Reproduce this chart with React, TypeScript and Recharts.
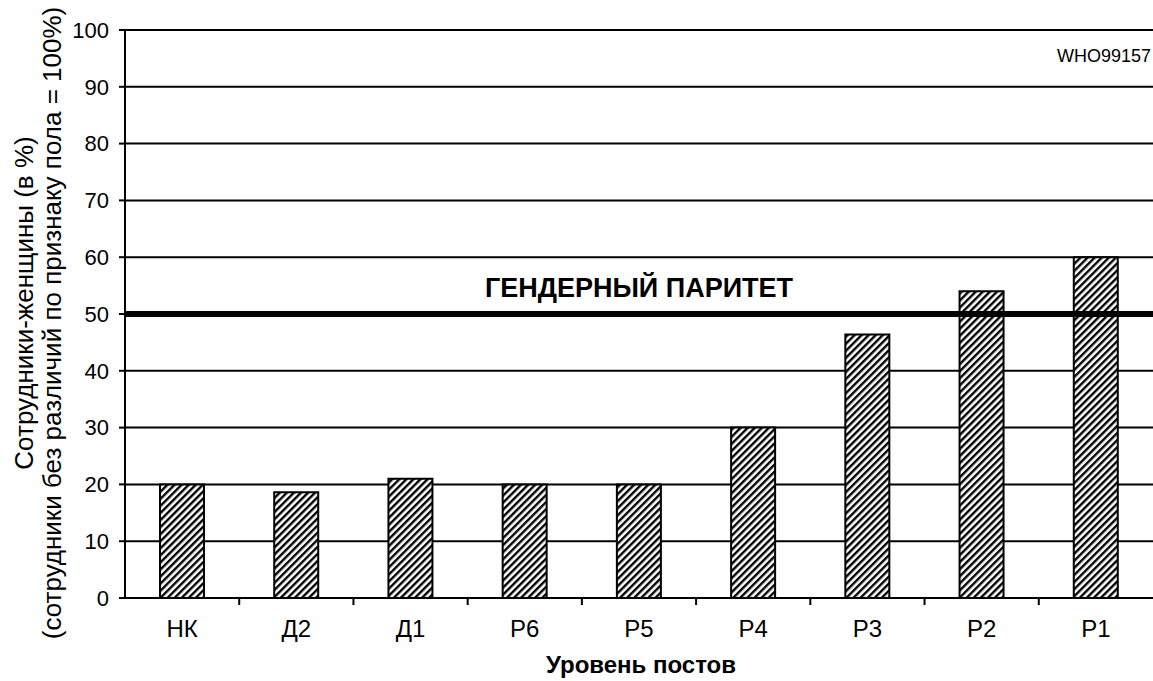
import React from 'react';
import { BarChart, Bar, XAxis, YAxis, CartesianGrid, ReferenceLine, Customized } from 'recharts';

const categories = ['НК', 'Д2', 'Д1', 'Р6', 'Р5', 'Р4', 'Р3', 'Р2', 'Р1'];
const womenShare = [20, 18.6, 21, 20, 20, 30, 46.4, 54, 60];
const yTicks = [0, 10, 20, 30, 40, 50, 60, 70, 80, 90, 100];
const parityValue = 50;
const parityLabel = 'ГЕНДЕРНЫЙ ПАРИТЕТ';
const codeLabel = 'WHO99157';
const xTitle = 'Уровень постов';
const yTitle1 = 'Сотрудники-женщины (в %)';
const yTitle2 = '(сотрудники без различий по признаку пола = 100%)';

const data = categories.map((c, i) => ({ level: c, value: womenShare[i] }));

const FONT = '"Liberation Sans", Arial, sans-serif';

const XTick = (props: any) => {
  const { x, y, payload, index, visibleTicksCount } = props;
  const half = payload && payload.offset ? payload.offset : 57;
  const last = index === (visibleTicksCount ?? categories.length) - 1;
  return (
    <g>
      {!last && <line x1={x + half} x2={x + half} y1={y - 8} y2={y - 1} stroke="#000" strokeWidth={2} />}
      <text x={x} y={y + 31} textAnchor="middle" fontSize={24} fontFamily={FONT} fill="#000">
        {payload.value}
      </text>
    </g>
  );
};

const YTitle = (props: any) => {
  const off = props.offset || {};
  const cy = (off.top ?? 30) + (off.height ?? 568) / 2;
  return (
    <g fontFamily={FONT} fill="#000" fontSize={26}>
      <text transform={`translate(33, ${cy - 11}) rotate(-90)`} textAnchor="middle">{yTitle1}</text>
      <text transform={`translate(61, ${cy + 9}) rotate(-90)`} textAnchor="middle">{yTitle2}</text>
    </g>
  );
};

export default function App() {
  return (
    <div style={{ position: 'absolute', left: 0, top: 0, background: '#fff' }}>
      <BarChart
        width={1153}
        height={681}
        data={data}
        margin={{ top: 30, right: 0, bottom: 0, left: 0 }}
        barCategoryGap={35}
      >
        <defs>
          <pattern id="hatch" patternUnits="userSpaceOnUse" width="5" height="5" patternTransform="rotate(45)">
            <rect width="5" height="5" fill="#fff" />
            <rect x="0" y="0" width="2.4" height="5" fill="#000" />
          </pattern>
        </defs>
        <CartesianGrid vertical={false} stroke="#000" strokeWidth={2} />
        <XAxis
          dataKey="level"
          height={83}
          axisLine={{ stroke: '#000', strokeWidth: 2 }}
          tickLine={false}
          tick={<XTick />}
          interval={0}
        />
        <YAxis
          width={125}
          domain={[0, 100]}
          ticks={yTicks}
          interval={0}
          axisLine={{ stroke: '#000', strokeWidth: 2 }}
          tickLine={{ stroke: '#000', strokeWidth: 2 }}
          tickSize={6}
          tickMargin={10}
          tick={{ fontSize: 22, fontFamily: FONT, fill: '#000' }}
        />
        <Bar dataKey="value" fill="url(#hatch)" stroke="#000" strokeWidth={2} isAnimationActive={false} />
        <ReferenceLine
          y={parityValue}
          stroke="#000"
          strokeWidth={6}
          label={{ value: parityLabel, position: 'center', dy: -27, fontSize: 27, fontWeight: 'bold', fontFamily: FONT, fill: '#000' } as any}
        />
        <ReferenceLine
          y={100}
          stroke="none"
          label={{ value: codeLabel, position: 'insideTopRight', dy: 14, dx: 3, fontSize: 18, fontFamily: FONT, fill: '#000' } as any}
        />
        <Customized component={YTitle} />
        <text x={641} y={673} textAnchor="middle" fontSize={24} fontWeight="bold" fontFamily={FONT} fill="#000">
          {xTitle}
        </text>
      </BarChart>
    </div>
  );
}
